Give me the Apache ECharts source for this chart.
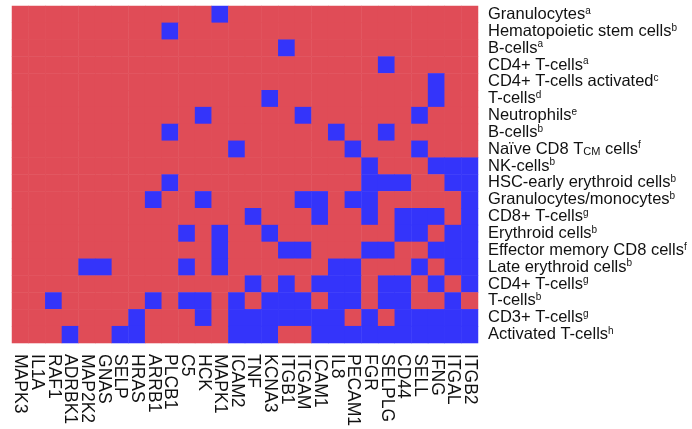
<!DOCTYPE html>
<html>
<head>
<meta charset="utf-8">
<script src="https://cdn.jsdelivr.net/npm/echarts@6/dist/echarts.min.js"></script>
<style>
  html, body { margin: 0; padding: 0; background: #fff; }
  #chart { width: 692px; height: 429px; }
</style>
</head>
<body>
<div id="chart"></div>
<script>
// genes along the bottom
const genes = ['MAPK3', 'IL1A', 'RAF1', 'ADRBK1', 'MAP2K2', 'GNAS', 'SELP', 'HRAS', 'ARRB1', 'PLCB1',
  'C5', 'HCK', 'MAPK1', 'ICAM2', 'TNF', 'KCNA3', 'ITGB1', 'ITGAM', 'ICAM1', 'IL8',
  'PECAM1', 'FGR', 'SELPLG', 'CD44', 'SELL', 'IFNG', 'ITGAL', 'ITGB2']

// cell types on the right, top to bottom, with their footnote letters
const cellTypes = ['Granulocytes', 'Hematopoietic stem cells', 'B-cells', 'CD4+ T-cells',
  'CD4+ T-cells activated', 'T-cells', 'Neutrophils', 'B-cells', 'Naïve CD8 T_{CM} cells',
  'NK-cells', 'HSC-early erythroid cells', 'Granulocytes/monocytes', 'CD8+ T-cells',
  'Erythroid cells', 'Effector memory CD8 cells', 'Late erythroid cells', 'CD4+ T-cells',
  'T-cells', 'CD3+ T-cells', 'Activated T-cells']
const notes = ['a', 'b', 'a', 'a', 'c', 'd', 'e', 'b', 'f', 'b', 'b', 'b', 'g', 'b', 'f', 'b', 'g', 'b', 'g', 'h']

// 1 = blue cell, 0 = red cell (one row per cell type, one column per gene)
const cells = [
  [0,0,0,0,0,0,0,0,0,0, 0,0,1,0,0,0,0,0,0,0, 0,0,0,0,0,0,0,0],
  [0,0,0,0,0,0,0,0,0,1, 0,0,0,0,0,0,0,0,0,0, 0,0,0,0,0,0,0,0],
  [0,0,0,0,0,0,0,0,0,0, 0,0,0,0,0,0,1,0,0,0, 0,0,0,0,0,0,0,0],
  [0,0,0,0,0,0,0,0,0,0, 0,0,0,0,0,0,0,0,0,0, 0,0,1,0,0,0,0,0],
  [0,0,0,0,0,0,0,0,0,0, 0,0,0,0,0,0,0,0,0,0, 0,0,0,0,0,1,0,0],
  [0,0,0,0,0,0,0,0,0,0, 0,0,0,0,0,1,0,0,0,0, 0,0,0,0,0,1,0,0],
  [0,0,0,0,0,0,0,0,0,0, 0,1,0,0,0,0,0,1,0,0, 0,0,0,0,1,0,0,0],
  [0,0,0,0,0,0,0,0,0,1, 0,0,0,0,0,0,0,0,0,1, 0,0,1,0,0,0,0,0],
  [0,0,0,0,0,0,0,0,0,0, 0,0,0,1,0,0,0,0,0,0, 1,0,0,0,1,0,0,0],
  [0,0,0,0,0,0,0,0,0,0, 0,0,0,0,0,0,0,0,0,0, 0,1,0,0,0,1,1,1],
  [0,0,0,0,0,0,0,0,0,1, 0,0,0,0,0,0,0,0,0,0, 0,1,1,1,0,0,1,1],
  [0,0,0,0,0,0,0,0,1,0, 0,1,0,0,0,0,0,1,1,0, 1,1,0,0,0,0,0,1],
  [0,0,0,0,0,0,0,0,0,0, 0,0,0,0,1,0,0,0,1,0, 0,1,0,1,1,1,0,1],
  [0,0,0,0,0,0,0,0,0,0, 1,0,1,0,0,1,0,0,0,0, 0,0,0,1,1,0,1,1],
  [0,0,0,0,0,0,0,0,0,0, 0,0,1,0,0,0,1,1,0,0, 0,1,1,0,0,1,1,1],
  [0,0,0,0,1,1,0,0,0,0, 1,0,1,0,0,0,0,0,0,1, 1,0,0,0,1,0,1,1],
  [0,0,0,0,0,0,0,0,0,0, 0,0,0,0,1,0,1,0,1,1, 1,0,1,1,0,1,0,1],
  [0,0,1,0,0,0,0,0,1,0, 1,1,0,1,0,1,1,1,0,1, 1,0,1,1,0,0,1,0],
  [0,0,0,0,0,0,0,1,0,0, 0,1,0,1,1,1,1,1,1,1, 0,1,0,1,1,1,1,1],
  [0,0,0,1,0,0,1,1,0,0, 0,0,0,1,1,1,0,0,1,1, 1,1,1,1,1,1,1,1]
]

const RED = '#e04c57'
const BLUE = '#3434fa'
const FONT = '"Liberation Sans", Arial, sans-serif'

let heatData = []
cells.forEach((row, y) => {
  row.forEach((v, x) => heatData.push([x, y, v]))
})

function rowLabel(value, index) {
  // subscript parts are written as _{..} in the names
  let name = cellTypes[index].replace(/_\{(.*?)\}/g, '}{sub|$1}{n|')
  return '{n|' + name + '}{sup|' + notes[index] + '}'
}

const chart = echarts.init(document.getElementById('chart'))
chart.setOption({
  animation: false,
  backgroundColor: '#fff',
  grid: {
    left: 12,
    top: 6,
    width: 466,
    height: 345
  },
  xAxis: {
    type: 'category',
    data: genes,
    position: 'bottom',
    axisLine: { show: false },
    axisTick: { show: false },
    splitLine: { show: false },
    axisLabel: {
      rotate: -90,
      interval: 0,
      margin: 11,
      fontSize: 17.5,
      fontFamily: FONT,
      color: '#111'
    }
  },
  yAxis: {
    type: 'category',
    data: cellTypes,
    position: 'right',
    inverse: true,
    axisLine: { show: false },
    axisTick: { show: false },
    splitLine: { show: false },
    axisLabel: {
      interval: 0,
      margin: 10,
      fontFamily: FONT,
      formatter: rowLabel,
      rich: {
        n: { fontSize: 16.5, lineHeight: 17, color: '#111', fontFamily: FONT },
        sup: { fontSize: 10, lineHeight: 10, color: '#111', fontFamily: FONT, verticalAlign: 'top' },
        sub: { fontSize: 11, lineHeight: 11, color: '#111', fontFamily: FONT, verticalAlign: 'bottom' }
      }
    }
  },
  visualMap: {
    show: false,
    type: 'piecewise',
    pieces: [
      { value: 0, color: RED },
      { value: 1, color: BLUE }
    ]
  },
  series: [{
    type: 'heatmap',
    data: heatData,
    itemStyle: { borderWidth: 0 },
    emphasis: { disabled: true }
  }]
})
</script>
</body>
</html>
